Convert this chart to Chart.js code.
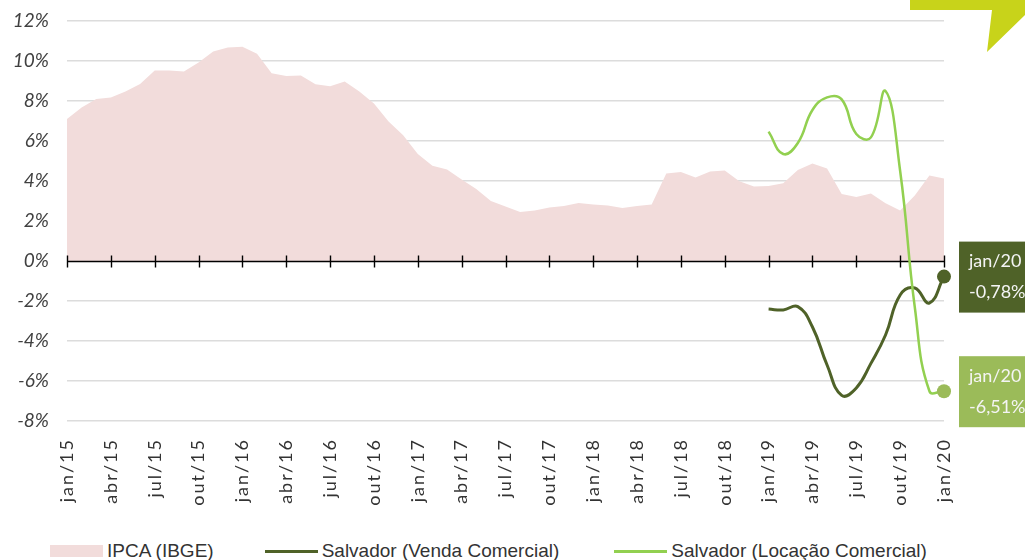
<!DOCTYPE html>
<html>
<head>
<meta charset="utf-8">
<script src="https://cdn.jsdelivr.net/npm/chart.js@4.4.1/dist/chart.umd.min.js"></script>
<style>
body { margin: 0; background: #fff; }
#wrap { position: relative; width: 1025px; height: 560px; overflow: hidden; }
#legend { position: absolute; left: 50px; top: 540px; display: flex; align-items: center;
  font-family: 'Liberation Sans Narrow', 'Arial Narrow', 'Liberation Sans', sans-serif; font-size: 19px; color: #333; }
#legend .item { display: flex; align-items: center; }
#legend .mark { width: 53px; margin-right: 4px; }
</style>
</head>
<body>
<div id="wrap">
  <canvas id="chart" width="1025" height="511"></canvas>
  <div id="legend"></div>
</div>
<script>
const months = ["jan","fev","mar","abr","mai","jun","jul","ago","set","out","nov","dez"];
const years = ["15","16","17","18","19","20"];

// IPCA 12 meses, jan/15 .. jan/20
const ipca = [
  7.10, 7.68, 8.10, 8.17, 8.47, 8.85, 9.53, 9.52, 9.47, 9.93, 10.48, 10.67,
  10.71, 10.36, 9.39, 9.25, 9.28, 8.84, 8.74, 8.97, 8.48, 7.87, 6.97, 6.29,
  5.35, 4.76, 4.57, 4.08, 3.60, 3.00, 2.72, 2.45, 2.52, 2.67, 2.75, 2.90,
  2.82, 2.77, 2.65, 2.75, 2.82, 4.37, 4.45, 4.17, 4.48, 4.52, 3.99, 3.72,
  3.75, 3.89, 4.55, 4.88, 4.63, 3.35, 3.20, 3.38, 2.89, 2.52, 3.27, 4.27,
  4.13
];
// Salvador, jan/19 .. jan/20
const venda = [-2.40, -2.45, -2.28, -3.30, -5.20, -6.72, -6.35, -5.12, -3.70, -1.70, -1.35, -2.10, -0.78];
const locacao = [6.47, 5.35, 5.90, 7.55, 8.18, 8.08, 6.35, 6.18, 8.50, 4.50, -2.30, -6.50, -6.51];

const seriesNames = ["IPCA (IBGE)", "Salvador (Venda Comercial)", "Salvador (Locação Comercial)"];
const colors = { ipca: "#f2dcdb", venda: "#4f6228", locacao: "#92d050", locacaoTag: "#9bbb59" };

const labels = [];
years.forEach(function (y) {
  months.forEach(function (m) {
    if (labels.length < ipca.length) labels.push(m + "/" + y);
  });
});
const gap = labels.length - venda.length;
const pad = function (arr) { return new Array(gap).fill(null).concat(arr); };
const lastRadius = function (r) { return labels.map(function (_, i) { return i === labels.length - 1 ? r : 0; }); };

const zeroAxis = {
  id: "zeroAxis",
  afterDatasetDraw: function (chart, args) {
    if (args.index !== 0) return;
    const ctx = chart.ctx, x = chart.scales.x, y0 = Math.round(chart.scales.y.getPixelForValue(0)) + 0.5;
    ctx.save();
    ctx.strokeStyle = "#000";
    ctx.lineWidth = 1.4;
    ctx.beginPath();
    ctx.moveTo(chart.chartArea.left, y0);
    ctx.lineTo(chart.chartArea.right, y0);
    for (let i = 0; i < labels.length; i += 3) {
      const px = Math.round(x.getPixelForValue(i)) + 0.5;
      ctx.moveTo(px, y0 - 6);
      ctx.lineTo(px, y0 + 6);
    }
    ctx.stroke();
    ctx.restore();
  },
  // x labels (z: 1) are drawn after the datasets, with wider letter spacing
  afterDatasetsDraw: function (chart) { chart.ctx.letterSpacing = "2px"; },
  afterDraw: function (chart) { chart.ctx.letterSpacing = "0px"; }
};

const endTags = {
  id: "endTags",
  afterDraw: function (chart) {
    const ctx = chart.ctx;
    [[1, colors.venda], [2, colors.locacaoTag]].forEach(function (d) {
      const meta = chart.getDatasetMeta(d[0]);
      const pt = meta.data[meta.data.length - 1];
      const v = chart.data.datasets[d[0]].data[labels.length - 1];
      ctx.save();
      ctx.fillStyle = d[1];
      ctx.fillRect(pt.x + 15, pt.y - 35, 90, 71);
      ctx.fillStyle = "#f4f4f4";
      ctx.font = "18px Lato, sans-serif";
      ctx.textBaseline = "middle";
      ctx.fillText(labels[labels.length - 1], pt.x + 25, pt.y - 15);
      ctx.fillText(v.toFixed(2).replace(".", ",") + "%", pt.x + 25, pt.y + 16);
      ctx.restore();
    });
  }
};

const corner = {
  id: "corner",
  afterDraw: function (chart) {
    const ctx = chart.ctx;
    ctx.save();
    ctx.fillStyle = "#c8d31a";
    ctx.beginPath();
    ctx.moveTo(910, 0); ctx.lineTo(1025, 0); ctx.lineTo(1025, 15);
    ctx.lineTo(987, 52); ctx.lineTo(992, 10); ctx.lineTo(910, 10);
    ctx.closePath();
    ctx.fill();
    ctx.restore();
  }
};

new Chart(document.getElementById("chart"), {
  type: "line",
  data: {
    labels: labels,
    datasets: [{
      label: seriesNames[0],
      data: ipca,
      order: 3,
      fill: "origin",
      backgroundColor: colors.ipca,
      borderWidth: 0,
      pointRadius: 0,
      tension: 0
    }, {
      label: seriesNames[1],
      data: pad(venda),
      order: 2,
      borderColor: colors.venda,
      backgroundColor: colors.venda,
      borderWidth: 3,
      pointRadius: lastRadius(7),
      pointBorderWidth: 0,
      tension: 0.45
    }, {
      label: seriesNames[2],
      data: pad(locacao),
      order: 1,
      borderColor: colors.locacao,
      backgroundColor: colors.locacaoTag,
      pointBackgroundColor: colors.locacaoTag,
      borderWidth: 2.5,
      pointRadius: lastRadius(7),
      pointBorderWidth: 0,
      tension: 0.45
    }]
  },
  options: {
    responsive: false,
    animation: false,
    layout: { padding: { top: 21, right: 81, left: 0, bottom: 0 } },
    plugins: { legend: { display: false }, tooltip: { enabled: false } },
    scales: {
      x: {
        grid: { display: false },
        border: { display: false },
        afterFit: function (s) { s.height = 90; s.paddingLeft = 0; s.paddingRight = 0; },
        ticks: {
          autoSkip: false, maxRotation: 90, minRotation: 90, padding: 9, z: 1,
          color: "#333", font: { family: "Lato", size: 18 },
          callback: function (v, i) { return i % 3 === 0 ? this.getLabelForValue(v) : ""; }
        }
      },
      y: {
        min: -8, max: 12,
        afterFit: function (s) { s.width = 67; s.paddingTop = 0; s.paddingBottom = 0; },
        border: { display: false },
        grid: {
          drawTicks: false, lineWidth: 1.5,
          color: function (c) { return c.tick.value === 0 ? "transparent" : "#dcdcdc"; }
        },
        ticks: {
          stepSize: 2, padding: 18, color: "#404040",
          font: { family: "Lato", size: 19, style: "italic" },
          callback: function (v) { return v + "%"; }
        }
      }
    }
  },
  plugins: [zeroAxis, endTags, corner]
});

const legend = document.getElementById("legend");
const legendGaps = [51, 55, 0];
[[colors.ipca, 12], [colors.venda, 3], [colors.locacao, 3]].forEach(function (m, i) {
  const item = document.createElement("div");
  item.className = "item";
  item.style.marginRight = legendGaps[i] + "px";
  const mark = document.createElement("span");
  mark.className = "mark";
  mark.style.background = m[0];
  mark.style.height = m[1] + "px";
  item.appendChild(mark);
  item.appendChild(document.createTextNode(seriesNames[i]));
  legend.appendChild(item);
});
</script>
</body>
</html>
